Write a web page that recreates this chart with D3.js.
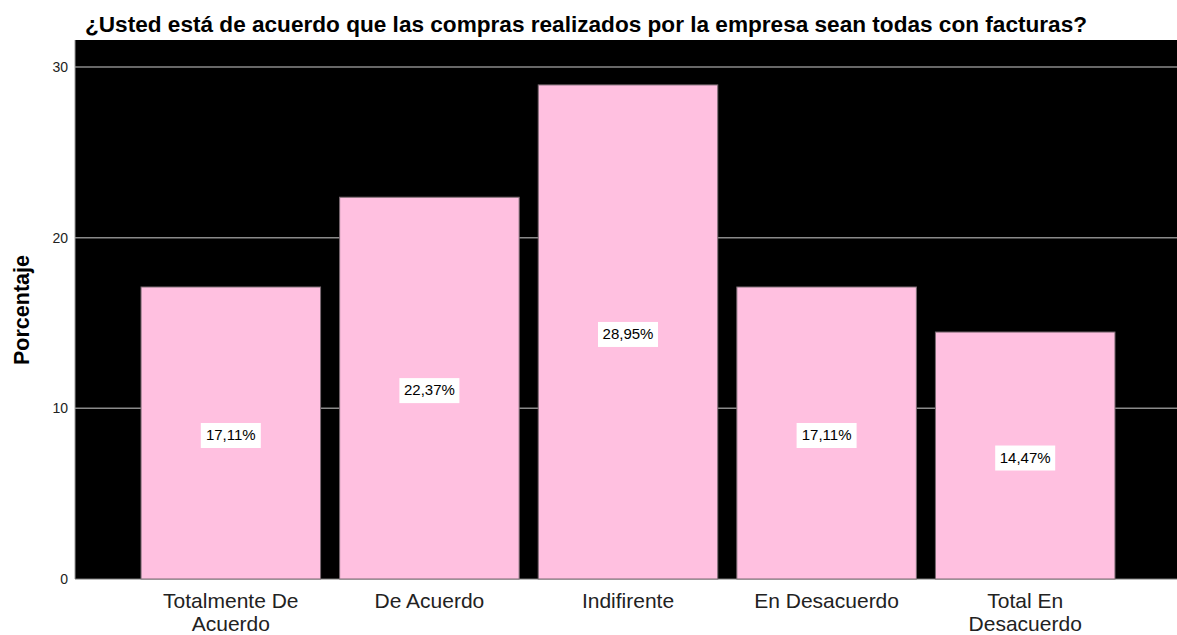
<!DOCTYPE html>
<html>
<head>
<meta charset="utf-8">
<script src="https://cdn.jsdelivr.net/npm/d3@7"></script>
<style>
  body { margin: 0; background: #fff; }
  text { font-family: "Liberation Sans", Arial, sans-serif; }
</style>
</head>
<body>
<div id="chart"></div>
<script>
var categories = [["Totalmente De", "Acuerdo"], ["De Acuerdo"], ["Indifirente"], ["En Desacuerdo"], ["Total En", "Desacuerdo"]];
var values = [17.11, 22.37, 28.95, 17.11, 14.47];
var valueLabels = ["17,11%", "22,37%", "28,95%", "17,11%", "14,47%"];
var yTicks = [0, 10, 20, 30];

var width = 1177, height = 635;
var plot = { left: 75, right: 1177, top: 40, bottom: 579 };

var svg = d3.select("#chart").append("svg")
    .attr("width", width)
    .attr("height", height);

var x = d3.scaleBand()
    .domain(d3.range(values.length))
    .range([131.5, 1124.5])
    .paddingInner(0.096)
    .paddingOuter(0.048);

var y = d3.scaleLinear()
    .domain([0, 30])
    .range([plot.bottom, 67]);

// plot background
svg.append("rect")
    .attr("x", plot.left)
    .attr("y", plot.top)
    .attr("width", plot.right - plot.left)
    .attr("height", plot.bottom - plot.top)
    .style("fill", "#000");

// grid lines
svg.selectAll(".grid")
    .data(yTicks.filter(function(d) { return d > 0; }))
    .enter().append("line")
    .attr("x1", plot.left)
    .attr("x2", plot.right)
    .attr("y1", function(d) { return y(d); })
    .attr("y2", function(d) { return y(d); })
    .style("stroke", "#8a8a8a")
    .style("stroke-width", 1.5);

// axis lines
svg.append("line")
    .attr("x1", plot.left).attr("x2", plot.left)
    .attr("y1", plot.top).attr("y2", plot.bottom)
    .style("stroke", "#999").style("stroke-width", 1);
svg.append("line")
    .attr("x1", plot.left).attr("x2", plot.right)
    .attr("y1", plot.bottom).attr("y2", plot.bottom)
    .style("stroke", "#777").style("stroke-width", 1);

// bars
svg.selectAll(".bar")
    .data(values)
    .enter().append("rect")
    .attr("class", "bar")
    .attr("x", function(d, i) { return x(i); })
    .attr("width", x.bandwidth())
    .attr("y", function(d) { return y(d); })
    .attr("height", function(d) { return y(0) - y(d); })
    .style("fill", "#ffc0e0")
    .style("stroke", "#7a6a72")
    .style("stroke-width", 1);

// value labels
var lab = svg.selectAll(".vlab")
    .data(values)
    .enter().append("g")
    .attr("transform", function(d, i) {
        return "translate(" + (x(i) + x.bandwidth() / 2) + "," + ((y(d) + y(0)) / 2 + 2) + ")";
    });
lab.append("rect")
    .attr("x", -30).attr("y", -12)
    .attr("width", 60).attr("height", 25)
    .style("fill", "#fff");
lab.append("text")
    .attr("text-anchor", "middle")
    .attr("dy", "0.35em")
    .style("font-size", "15px")
    .style("fill", "#000")
    .text(function(d, i) { return valueLabels[i]; });

// y tick labels
svg.selectAll(".ytick")
    .data(yTicks)
    .enter().append("text")
    .attr("x", 68)
    .attr("y", function(d) { return y(d); })
    .attr("dy", "0.35em")
    .attr("text-anchor", "end")
    .style("font-size", "14px")
    .style("fill", "#222")
    .text(function(d) { return d; });

// x tick labels
var xl = svg.selectAll(".xtick")
    .data(categories)
    .enter().append("text")
    .attr("text-anchor", "middle")
    .attr("transform", function(d, i) {
        return "translate(" + (x(i) + x.bandwidth() / 2) + ",608)";
    })
    .style("font-size", "21px")
    .style("fill", "#222");
xl.selectAll("tspan")
    .data(function(d) { return d; })
    .enter().append("tspan")
    .attr("x", 0)
    .attr("dy", function(d, j) { return j === 0 ? 0 : 23; })
    .text(function(d) { return d; });

// y axis title
svg.append("text")
    .attr("transform", "translate(29,310) rotate(-90)")
    .attr("text-anchor", "middle")
    .style("font-size", "21.5px")
    .style("font-weight", "bold")
    .style("fill", "#000")
    .text("Porcentaje");

// title
svg.append("text")
    .attr("x", 85)
    .attr("y", 32)
    .style("font-size", "22.6px")
    .style("font-weight", "bold")
    .style("fill", "#000")
    .text("¿Usted está de acuerdo que las compras realizados por la empresa sean todas con facturas?");
</script>
</body>
</html>
